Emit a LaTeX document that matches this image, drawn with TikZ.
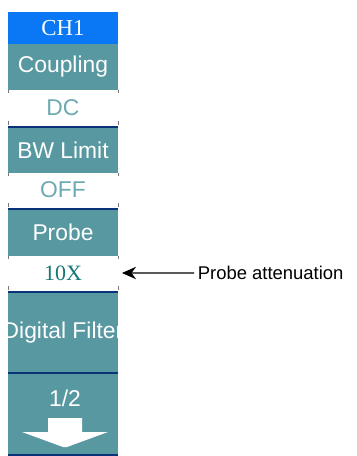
\documentclass[tikz,border=0pt]{standalone}
\usepackage{fontspec}
\setmainfont{Liberation Serif}
\setsansfont{Liberation Sans}
\usetikzlibrary{arrows.meta,positioning}
\definecolor{chblue}{RGB}{10,120,245}
\definecolor{menuteal}{RGB}{88,152,160}
\definecolor{edgenavy}{RGB}{10,50,120}
\definecolor{valteal}{RGB}{110,170,178}
\definecolor{valdark}{RGB}{20,120,120}
\definecolor{tickgray}{RGB}{120,120,120}

\tikzset{
  menubox/.style={fill=menuteal, text=white, font=\sffamily\fontsize{13}{15}\selectfont,
    minimum width=2.2cm, inner sep=0pt, outer sep=0pt, anchor=north west},
  valbox/.style={menubox, fill=white, text=valteal},
  navyline/.style={edgenavy, line width=1pt},
  sidetick/.style={tickgray, line width=0.4pt},
  pointer/.style={-{Stealth[length=8pt,width=7pt]}, line width=0.7pt},
}

\begin{document}
\begin{tikzpicture}[x=0.02cm, y=-0.02cm]
\useasboundingbox (0,0) rectangle (357,456);

% Channel menu
\node[menubox, fill=chblue, minimum height=0.64cm, font=\rmfamily\fontsize{13}{15}\selectfont] (ch) at (8,12) {CH1};
\node[menubox, minimum height=0.92cm] (cpl) at (8,44) {Coupling};
\node[valbox, minimum height=0.70cm] (dc) at (8,90) {DC};
\node[menubox, minimum height=0.92cm] (bw) at (8,127) {BW Limit};
\node[valbox, minimum height=0.68cm] (off) at (8,173) {OFF};
\node[menubox, minimum height=0.94cm] (prb) at (8,209) {Probe};
\node[valbox, minimum height=0.68cm, text=valdark, font=\rmfamily\fontsize{12.5}{14}\selectfont] (tenx) at (8,256) {10X};
\node[menubox, minimum height=1.62cm] (dfl) at (8,292) {\makebox[0pt]{Digital Filter}};
\node[menubox, minimum height=1.64cm] (pg) at (8,373) {};
\node[text=white, font=\sffamily\fontsize{13}{15}\selectfont] (pgtxt) at (65,398) {1/2};

% page-down arrow
\fill[white] (48,418) -- (82,418) -- (82,432) -- (108,432) -- (67,447) -- (63,447) -- (22,432) -- (48,432) -- cycle;

% separators
\foreach \b in {bw,prb,dfl,pg} {
  \draw[navyline] (\b.north west) -- (\b.north east);
}
\draw[navyline] (pg.south west) -- (pg.south east);
\foreach \v in {dc,off,tenx} {
  \draw[sidetick] (\v.north west) -- ++(0,3);
  \draw[sidetick] (\v.north east) -- ++(0,3);
  \draw[sidetick] (\v.south west) -- ++(0,-4);
  \draw[sidetick] (\v.south east) -- ++(0,-4);
}

% callout
\coordinate (tip) at ([xshift=0.08cm]tenx.east);
\node[anchor=west, inner sep=2pt, font=\sffamily\fontsize{10.5}{12}\selectfont] (note) at (194,273) {Probe attenuation};
\draw[pointer] (note.west) -- (tip);
\end{tikzpicture}
\end{document}
